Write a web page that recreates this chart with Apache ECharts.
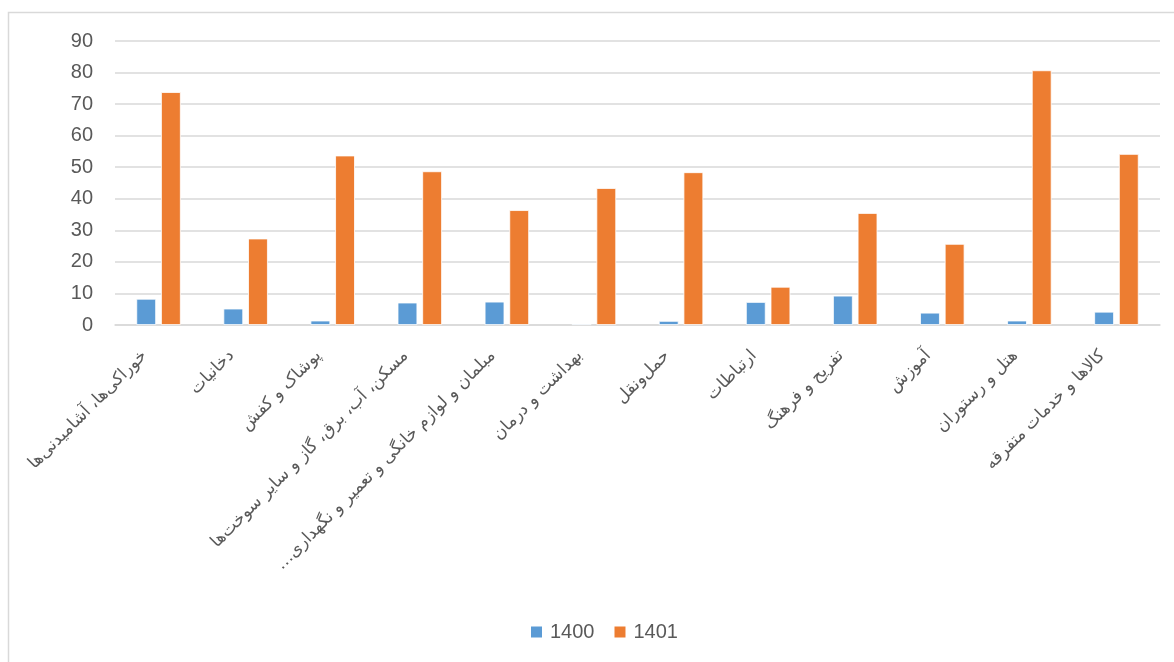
<!DOCTYPE html>
<html>
<head>
<meta charset="utf-8">
<script src="https://cdn.jsdelivr.net/npm/echarts@6/dist/echarts.min.js"></script>
<style>
html,body{margin:0;padding:0;background:#fff;}
#chart{width:1174px;height:662px;}
</style>
</head>
<body>
<div id="chart"></div>
<script>
const categories = [
  'خوراکی‌ها، آشامیدنی‌ها',
  'دخانیات',
  'پوشاک و کفش',
  'مسکن، آب، برق، گاز و سایر سوخت‌ها',
  'مبلمان و لوازم خانگی و تعمیر و نگهداری…',
  'بهداشت و درمان',
  'حمل‌ونقل',
  'ارتباطات',
  'تفریح و فرهنگ',
  'آموزش',
  'هتل و رستوران',
  'کالاها و خدمات متفرقه'
];
const series1400 = [8.3, 5.2, 1.4, 7.1, 7.4, 0.4, 1.3, 7.3, 9.3, 3.9, 1.4, 4.2];
const series1401 = [73.8, 27.4, 53.7, 48.7, 36.4, 43.4, 48.4, 12.1, 35.5, 25.7, 80.7, 54.2];
const yTicks = [0, 10, 20, 30, 40, 50, 60, 70, 80, 90];

const chart = echarts.init(document.getElementById('chart'), null, {renderer: 'canvas'});
const textColor = '#595959';
const gridColor = '#d9d9d9';
chart.setOption({
  animation: false,
  backgroundColor: '#fff',
  graphic: [{
    type: 'rect',
    shape: {x: 8.5, y: 12.5, width: 1200, height: 700},
    style: {fill: 'none', stroke: '#d9d9d9', lineWidth: 1.5},
    silent: true
  }],
  grid: {left: 115, right: 14, top: 41, height: 284, containLabel: false},
  legend: {
    bottom: 15,
    left: 524,
    itemWidth: 13,
    itemHeight: 13,
    itemGap: 18,
    icon: 'rect',
    textStyle: {color: textColor, fontSize: 20, fontFamily: 'Liberation Sans, Arial, sans-serif', padding: [0, 0, 0, 2]},
    data: ['1400', '1401']
  },
  xAxis: {
    type: 'category',
    data: categories,
    axisLine: {show: true, lineStyle: {color: gridColor, width: 1.5}},
    axisTick: {show: false},
    axisLabel: {
      rotate: 45,
      interval: 0,
      margin: 14,
      padding: [0, 20, 0, 0],
      color: textColor,
      fontSize: 17,
      fontFamily: 'DejaVu Sans, sans-serif',
      formatter: function (v) { return '\u200F' + v + '\u200F'; }
    }
  },
  yAxis: {
    type: 'value',
    min: yTicks[0],
    max: yTicks[yTicks.length - 1],
    interval: 10,
    axisLine: {show: false},
    axisTick: {show: false},
    splitLine: {lineStyle: {color: gridColor, width: 1.5}},
    axisLabel: {
      margin: 22,
      color: textColor,
      fontSize: 20,
      fontFamily: 'Liberation Sans, Arial, sans-serif'
    }
  },
  series: [
    {
      name: '1400',
      type: 'bar',
      data: series1400,
      barGap: '25%',
      barCategoryGap: '49%',
      itemStyle: {color: '#5b9bd5', borderColor: '#ffffff', borderWidth: 0.8}
    },
    {
      name: '1401',
      type: 'bar',
      data: series1401,
      barGap: '25%',
      barCategoryGap: '49%',
      itemStyle: {color: '#ed7d31', borderColor: '#ffffff', borderWidth: 0.8}
    }
  ]
});
</script>
</body>
</html>
